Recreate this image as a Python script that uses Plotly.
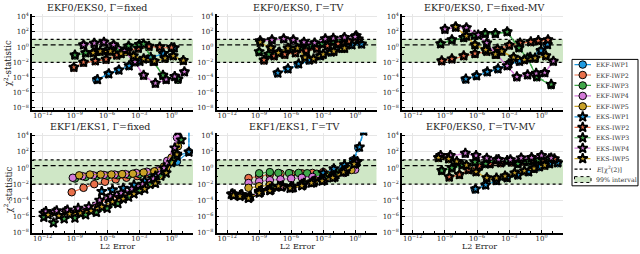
import plotly.graph_objects as go

# ---------------- data (log10 of L2 error, log10 of chi^2 statistic) ----------------
series_names = ["EKF-IWP1", "EKF-IWP2", "EKF-IWP3", "EKF-IWP4", "EKF-IWP5",
                "EKS-IWP1", "EKS-IWP2", "EKS-IWP3", "EKS-IWP4", "EKS-IWP5"]
colors = ["#1f9ae0", "#e9704b", "#40a84a", "#d47ad8", "#c9a227"]

panel_titles = ["EKF0/EKS0, Γ=fixed", "EKF0/EKS0, Γ=TV", "EKF0/EKS0, Γ=fixed-MV",
                "EKF1/EKS1, Γ=fixed", "EKF1/EKS1, Γ=TV", "EKF0/EKS0, Γ=TV-MV"]

x_tick_exp = [-12, -9, -6, -3, 0]
y_tick_exp = [4, 2, 0, -2, -4, -6, -8]

chi2_mean = 2.0          # E[chi^2(2)]
chi2_lo, chi2_hi = 0.01003, 10.597   # 99% interval of chi^2(2)

ekf0_fixed = {
    "EKF-IWP1": ([-7.0, -5.9, -4.95, -4.0, -3.0, -2.0, -0.8, 0.2],
                 [-4.3, -3.55, -3.05, -2.5, -1.9, -1.4, -0.9, -0.2]),
    "EKF-IWP2": ([-9.1, -8.2, -7.1, -6.1, -5.1, -4.1, -3.1, -2.1, -1.1, 0.0],
                 [-2.7, -2.05, -1.85, -1.65, -1.1, -0.5, -0.2, 0.05, -0.05, -0.1]),
    "EKF-IWP3": ([-9.0, -8.0, -7.0, -6.0, -5.0, -4.0, -3.0, -2.6, -1.7, -0.8, 0.6],
                 [-1.1, -0.8, -0.6, -0.45, -0.3, 0.1, 0.3, 0.35, -1.9, -3.75, -4.3]),
    "EKF-IWP4": ([-8.2, -7.2, -6.3, -5.4, -4.4, -3.4, -2.6, -1.5, -0.5, 0.3, 1.2],
                 [0.27, 0.45, 0.6, 0.27, -0.6, -2.0, -3.75, -4.8, -4.3, -3.9, -3.3]),
    "EKF-IWP5": ([-7.3, -6.65, -5.7, -4.7, -3.55, -2.6, -1.6, -0.6, 0.16, 1.1],
                 [-0.8, -0.6, -0.6, -0.9, -1.2, -1.6, -1.9, -1.5, -1.2, -1.8]),
    "EKS-IWP1": ([-6.9, -5.85, -4.9, -3.95, -2.95, -1.95, -0.75, 0.25],
                 [-4.25, -3.5, -3.0, -2.45, -1.85, -1.35, -0.85, -0.1]),
    "EKS-IWP2": ([-9.1, -8.2, -7.1, -6.1, -5.1, -4.1, -3.1, -2.1, -1.1, 0.0],
                 [-2.65, -2.0, -1.8, -1.6, -1.05, -0.45, -0.15, 0.1, 0.0, -0.05]),
    "EKS-IWP3": ([-9.0, -8.0, -7.0, -6.0, -5.0, -4.0, -3.0, -2.6, -1.7, -0.8, 0.6],
                 [-1.05, -0.75, -0.55, -0.4, -0.25, 0.15, 0.35, 0.4, -1.85, -3.7, -4.2]),
    "EKS-IWP4": ([-8.2, -7.2, -6.3, -5.4, -4.4, -3.4, -2.6, -1.5, -0.5, 0.3, 1.2],
                 [0.3, 0.5, 0.65, 0.3, -0.55, -1.95, -3.7, -4.75, -4.25, -3.85, -3.25]),
    "EKS-IWP5": ([-7.3, -6.65, -5.7, -4.7, -3.55, -2.6, -1.6, -0.6, 0.16, 1.1],
                 [-0.75, -0.55, -0.55, -0.85, -1.15, -1.55, -1.85, -1.45, -1.15, -1.75]),
}

ekf0_tv = {
    "EKF-IWP1": ([-7.3, -6.33, -5.37, -4.35, -3.3, -2.3, -1.3, -0.35, 0.58],
                 [-3.45, -2.9, -2.27, -1.75, -1.2, -0.7, -0.2, 0.27, 0.36]),
    "EKF-IWP2": ([-8.55, -7.6, -6.6, -5.6, -4.6, -3.6, -2.6, -1.6, -0.6, 0.3],
                 [-1.76, -1.2, -1.0, -0.8, -0.5, -0.2, 0.1, 0.4, 0.7, 1.0]),
    "EKF-IWP3": ([-9.0, -8.1, -7.1, -6.1, -5.1, -4.1, -3.1, -2.1, -1.1, 0.1],
                 [-0.66, -1.0, -0.7, -0.3, -0.1, 0.1, 0.4, 0.7, 1.0, 1.45]),
    "EKF-IWP4": ([-8.9, -7.8, -6.7, -5.8, -4.8, -3.8, -2.8, -2.05, -1.0, 0.0],
                 [0.78, 0.9, 1.03, 0.9, 0.6, 0.5, 1.03, 1.1, 1.2, 1.3]),
    "EKF-IWP5": ([-8.9, -7.9, -7.2, -6.3, -5.4, -4.7, -3.9, -3.0, -2.0, -1.0],
                 [0.6, -0.15, -0.8, -0.2, -0.2, -1.4, -1.6, -1.0, -0.6, -0.2]),
    "EKS-IWP1": ([-7.25, -6.3, -5.3, -4.3, -3.25, -2.25, -1.25, -0.3, 0.6],
                 [-3.4, -2.85, -2.2, -1.7, -1.15, -0.65, -0.15, 0.3, 0.4]),
    "EKS-IWP2": ([-8.55, -7.6, -6.6, -5.6, -4.6, -3.6, -2.6, -1.6, -0.6, 0.3],
                 [-1.7, -1.15, -0.95, -0.75, -0.45, -0.15, 0.15, 0.45, 0.75, 1.05]),
    "EKS-IWP3": ([-9.0, -8.1, -7.1, -6.1, -5.1, -4.1, -3.1, -2.1, -1.1, 0.1],
                 [-0.6, -0.95, -0.65, -0.25, -0.05, 0.15, 0.45, 0.75, 1.05, 1.5]),
    "EKS-IWP4": ([-8.9, -7.8, -6.7, -5.8, -4.8, -3.8, -2.8, -2.05, -1.0, 0.0],
                 [0.82, 0.95, 1.08, 0.95, 0.65, 0.55, 1.08, 1.15, 1.25, 1.35]),
    "EKS-IWP5": ([-8.9, -7.9, -7.2, -6.3, -5.4, -4.7, -3.9, -3.0, -2.0, -1.0],
                 [0.65, -0.1, -0.75, -0.15, -0.15, -1.35, -1.55, -0.95, -0.55, -0.15]),
}

ekf0_fixedmv = {
    "EKF-IWP1": ([-7.1, -6.1, -5.1, -4.1, -3.1, -2.1, -1.1, -0.1, 0.5],
                 [-4.26, -3.8, -3.3, -2.9, -2.27, -1.9, -1.4, -0.5, 0.3]),
    "EKF-IWP2": ([-9.3, -8.35, -7.25, -6.2, -5.1, -4.1, -3.0, -2.0, -1.0, -0.3, 0.6],
                 [-1.85, -1.6, -1.2, -0.9, -0.6, -0.3, 0.2, 0.5, 0.65, 0.8, 0.9]),
    "EKF-IWP3": ([-9.4, -8.35, -7.25, -6.25, -5.25, -4.3, -3.2, -2.1, -1.3, -0.44, 0.9],
                 [0.4, 0.9, 1.2, 1.5, 1.75, 1.75, 1.97, -0.15, -1.5, -3.97, -5.0]),
    "EKF-IWP4": ([-9.0, -8.0, -7.0, -5.9, -5.1, -4.2, -3.2, -2.3, -1.3, -0.5, 0.3, 1.1],
                 [2.3, 2.6, 2.5, 1.55, 0.5, -1.0, -2.5, -3.97, -3.7, -3.5, -3.4, -1.9]),
    "EKF-IWP5": ([-8.0, -7.0, -6.2, -5.2, -4.3, -3.7, -2.6, -1.6, -0.6, 0.4],
                 [2.6, 1.4, 0.27, -0.4, -1.0, -0.6, -1.4, -1.7, -1.5, -1.2]),
    "EKS-IWP1": ([-7.05, -6.05, -5.05, -4.05, -3.05, -2.05, -1.05, -0.05, 0.55],
                 [-4.2, -3.75, -3.25, -2.85, -2.2, -1.85, -1.35, -0.45, 0.35]),
    "EKS-IWP2": ([-9.3, -8.35, -7.25, -6.2, -5.1, -4.1, -3.0, -2.0, -1.0, -0.3, 0.6],
                 [-1.8, -1.55, -1.15, -0.85, -0.55, -0.25, 0.25, 0.55, 0.7, 0.85, 0.95]),
    "EKS-IWP3": ([-9.4, -8.35, -7.25, -6.25, -5.25, -4.3, -3.2, -2.1, -1.3, -0.44, 0.9],
                 [0.45, 0.95, 1.25, 1.55, 1.8, 1.8, 2.0, -0.1, -1.45, -3.9, -4.9]),
    "EKS-IWP4": ([-9.0, -8.0, -7.0, -5.9, -5.1, -4.2, -3.2, -2.3, -1.3, -0.5, 0.3, 1.1],
                 [2.35, 2.65, 2.55, 1.6, 0.55, -0.95, -2.45, -3.9, -3.65, -3.45, -3.35, -1.85]),
    "EKS-IWP5": ([-8.0, -7.0, -6.2, -5.2, -4.3, -3.7, -2.6, -1.6, -0.6, 0.4],
                 [2.65, 1.45, 0.32, -0.35, -0.95, -0.55, -1.35, -1.65, -1.45, -1.15]),
}

ekf1_fixed = {
    "EKF-IWP1": ([-1.5, -0.5, 0.5, 1.62, 1.62],
                 [-0.8, -0.3, 0.8, 2.0, 6.0]),
    "EKF-IWP2": ([-9.3, -8.2, -7.2, -6.2, -5.2, -4.2, -3.2, -2.2, -1.2, -0.3, 0.5],
                 [-3.0, -2.45, -2.0, -1.7, -1.4, -1.2, -1.0, -0.7, -0.4, 0.6, 1.7]),
    "EKF-IWP3": ([-9.0, -8.0, -7.0, -6.0, -5.0, -4.0, -3.0, -2.0, -1.0, -0.2, 0.8],
                 [-1.3, -1.1, -1.0, -0.95, -0.9, -0.85, -0.75, -0.6, -0.3, 0.8, 3.4]),
    "EKF-IWP4": ([-9.2, -8.3, -7.3, -6.3, -5.3, -4.3, -3.3, -2.3, -1.3, -0.4, 0.5],
                 [-1.2, -1.0, -0.9, -0.85, -0.8, -0.75, -0.6, -0.45, -0.3, 0.9, 3.8]),
    "EKF-IWP5": ([-8.6, -7.6, -6.6, -5.6, -4.6, -3.6, -2.6, -1.6, -0.7, 0.0, 0.6],
                 [-0.9, -0.8, -0.8, -0.8, -0.75, -0.7, -0.55, -0.4, 0.2, 1.3, 2.7]),
    "EKS-IWP1": ([-6.5, -5.5, -4.5, -3.5, -2.5, -1.5, -0.5, 0.5, 1.62, 1.62],
                 [-2.9, -2.7, -2.5, -2.1, -1.6, -1.0, 0.0, 1.5, 2.0, 6.0]),
    "EKS-IWP2": ([-11.9, -10.9, -9.9, -8.9, -7.9, -6.9, -5.9, -4.9, -3.9, -2.9, -1.9, -0.9, 0.1],
                 [-5.6, -5.5, -5.4, -5.4, -5.2, -4.5, -3.8, -3.6, -3.1, -2.5, -1.8, -0.7, 0.9]),
    "EKS-IWP3": ([-11.9, -11.0, -10.0, -9.0, -8.0, -7.0, -6.0, -5.0, -4.0, -3.0, -2.0, -1.0, 0.0, 0.9],
                 [-6.1, -6.8, -6.3, -6.2, -5.8, -5.5, -5.0, -4.4, -3.6, -2.8, -2.0, -1.0, 0.7, 3.5]),
    "EKS-IWP4": ([-11.7, -10.7, -9.7, -8.7, -7.7, -6.7, -5.7, -4.7, -3.7, -2.7, -1.7, -0.7, 0.3, 0.6],
                 [-5.4, -5.3, -5.2, -5.0, -4.8, -4.0, -3.5, -3.1, -2.6, -2.0, -1.3, 0.0, 2.5, 4.6]),
    "EKS-IWP5": ([-11.5, -10.5, -9.5, -8.5, -7.5, -6.5, -5.5, -4.5, -3.5, -2.5, -1.5, -0.5, 0.5],
                 [-5.8, -5.9, -5.7, -5.6, -5.3, -4.8, -4.2, -3.8, -3.2, -2.6, -1.9, -0.6, 1.7]),
}

ekf1_tv = {
    "EKF-IWP1": ([-3.1, -2.1, -1.1, -0.2, 0.3, 0.8],
                 [-0.84, -0.4, 0.2, 0.97, 2.5, 4.6]),
    "EKF-IWP2": ([-10.0, -9.0, -8.0, -7.0, -6.0, -5.0, -4.0, -3.0, -2.0, -1.0, 0.0],
                 [-1.24, -1.0, -0.8, -0.7, -0.7, -0.65, -0.6, -0.5, -0.4, -0.2, 0.2]),
    "EKF-IWP3": ([-9.0, -8.0, -7.2, -6.2, -5.3, -4.5, -3.6, -2.7, -1.8, -0.9, -0.1],
                 [-0.64, -0.5, -0.6, -0.62, -0.6, -0.64, -0.7, -0.85, -0.5, -0.2, 0.1]),
    "EKF-IWP4": ([-10.0, -9.0, -8.0, -7.0, -6.0, -5.0, -4.0, -3.0, -2.0, -1.0, 0.0],
                 [-1.85, -1.65, -1.5, -1.4, -1.3, -1.2, -1.1, -1.0, -0.9, -0.6, -0.2]),
    "EKF-IWP5": ([-10.0, -9.0, -8.0, -7.0, -5.9, -4.85, -3.8, -2.8, -1.8, -0.9, -0.35],
                 [-2.45, -2.25, -2.1, -2.2, -2.45, -1.85, -1.5, -1.04, -0.8, -0.5, -0.24]),
    "EKS-IWP1": ([-3.0, -2.0, -1.0, -0.1, 0.4, 0.8],
                 [-0.6, -0.1, 0.4, 1.0, 2.6, 4.6]),
    "EKS-IWP2": ([-11.5, -10.8, -10.0, -9.0, -8.0, -7.0, -6.0, -5.0, -4.0, -3.0, -2.0, -1.0, 0.0],
                 [-3.2, -3.4, -3.7, -2.9, -2.6, -2.3, -2.3, -2.0, -1.7, -1.4, -1.0, -0.3, 0.6]),
    "EKS-IWP3": ([-11.3, -10.6, -9.8, -8.8, -7.8, -6.8, -5.8, -4.8, -3.8, -2.8, -1.8, -0.8, 0.2],
                 [-3.3, -3.3, -3.5, -2.8, -2.4, -2.2, -2.4, -1.9, -1.6, -1.2, -0.8, -0.1, 0.8]),
    "EKS-IWP4": ([-11.6, -10.7, -9.9, -8.9, -7.9, -6.9, -5.9, -4.9, -3.9, -2.9, -1.9, -0.9, 0.1],
                 [-3.25, -3.3, -3.6, -3.0, -2.7, -2.35, -2.45, -2.1, -1.8, -1.5, -1.1, -0.4, 0.7]),
    "EKS-IWP5": ([-11.4, -10.8, -10.0, -9.0, -8.0, -7.2, -6.1, -5.0, -4.1, -3.1, -2.1, -1.1, -0.1],
                 [-3.4, -3.5, -3.75, -3.1, -2.8, -2.25, -2.5, -2.2, -1.85, -1.6, -1.2, -0.5, 0.5]),
}

ekf0_tvmv = {
    "EKF-IWP1": ([-6.2, -5.26, -4.25, -3.25, -2.25, -1.25, -0.25, 0.7, 1.5],
                 [-2.65, -2.13, -1.6, -1.24, -0.9, -0.5, 0.1, 0.5, 0.6]),
    "EKF-IWP2": ([-8.6, -7.65, -6.8, -5.8, -4.8, -3.8, -2.8, -1.8, -0.8, 0.2, 1.2],
                 [-1.16, -0.84, -0.24, 0.2, 0.5, 0.6, 0.7, 0.8, 0.9, 1.0, 1.1]),
    "EKF-IWP3": ([-9.3, -8.35, -7.4, -6.2, -5.2, -4.2, -3.2, -2.2, -1.2, -0.3, 0.7],
                 [-0.35, -0.03, 0.37, 0.7, 0.5, 0.98, 0.9, 0.5, 0.8, 0.98, 1.1]),
    "EKF-IWP4": ([-9.4, -8.5, -7.1, -6.1, -5.1, -4.0, -2.9, -1.9, -0.93, 0.0, 0.9],
                 [1.5, 1.5, 1.78, 1.5, 1.18, 1.0, 0.98, 1.2, 1.26, 1.5, 1.2]),
    "EKF-IWP5": ([-9.6, -8.65, -7.9, -7.0, -6.1, -5.1, -4.2, -3.4, -2.5, -1.6, -0.7, 0.3],
                 [1.26, 1.1, 0.77, 0.3, -0.5, -1.24, -1.3, -1.04, -0.64, -0.4, -0.1, 0.3]),
    "EKS-IWP1": ([-6.15, -5.2, -4.2, -3.2, -2.2, -1.2, -0.2, 0.75, 1.5],
                 [-2.6, -2.1, -1.55, -1.2, -0.85, -0.45, 0.15, 0.55, 0.65]),
    "EKS-IWP2": ([-8.6, -7.65, -6.8, -5.8, -4.8, -3.8, -2.8, -1.8, -0.8, 0.2, 1.2],
                 [-1.1, -0.8, -0.2, 0.25, 0.55, 0.65, 0.75, 0.85, 0.95, 1.05, 1.15]),
    "EKS-IWP3": ([-9.3, -8.35, -7.4, -6.2, -5.2, -4.2, -3.2, -2.2, -1.2, -0.3, 0.7],
                 [-0.3, 0.02, 0.42, 0.75, 0.55, 1.03, 0.95, 0.55, 0.85, 1.03, 1.15]),
    "EKS-IWP4": ([-9.4, -8.5, -7.1, -6.1, -5.1, -4.0, -2.9, -1.9, -0.93, 0.0, 0.9],
                 [1.55, 1.55, 1.83, 1.55, 1.23, 1.05, 1.03, 1.25, 1.3, 1.55, 1.25]),
    "EKS-IWP5": ([-9.6, -8.65, -7.9, -7.0, -6.1, -5.1, -4.2, -3.4, -2.5, -1.6, -0.7, 0.3],
                 [1.3, 1.15, 0.82, 0.35, -0.45, -1.2, -1.25, -1.0, -0.6, -0.35, -0.05, 0.35]),
}

panels = [ekf0_fixed, ekf0_tv, ekf0_fixedmv, ekf1_fixed, ekf1_tv, ekf0_tvmv]

# ---------------- layout geometry (pixels) ----------------
W, H = 640, 254
col_px = [(32, 193), (216.5, 376.5), (402, 563)]
row_px = [(11.7, 110), (133.3, 236.7)]
row_yrange = [[-8.26, 4.3], [-8.08, 4.4]]
x_range = [-13, 2]
title_pos = [(97, 5), (298, 5), (484, 5), (100, 127.5), (294, 127.5), (480, 127.5)]
xlabel_pos = [(117, 250.5), (297, 250.5), (479, 250.5)]
ylabel_pos = [(8, 62), (8, 192)]
band_color = "#cfe7c6"
FONT = "DejaVu Serif"

def px2x(p):
    return p / W

def px2y(p):
    return 1 - p / H

fig = go.Figure()

def sup_label(e):
    s = str(e).replace("-", "−")
    return f"10<sup>{s}</sup>"

STAR_SIZE, STAR_LW = 7.5, 1.8
CIRC_SIZE, CIRC_LW = 7.5, 1.0

for k, data in enumerate(panels):
    r, c = divmod(k, 3)
    ax = k + 1
    xa, ya = f"x{ax}", f"y{ax}"
    xb = [10 ** (x_range[0] - 0.5), 10 ** (x_range[1] + 0.5)]
    # 99% band
    fig.add_trace(go.Scatter(x=xb, y=[chi2_lo, chi2_lo], mode="lines", xaxis=xa, yaxis=ya,
                             line=dict(color="black", width=1.3, dash="dot"),
                             showlegend=False, hoverinfo="skip"))
    fig.add_trace(go.Scatter(x=xb, y=[chi2_hi, chi2_hi], mode="lines", xaxis=xa, yaxis=ya,
                             fill="tonexty", fillcolor=band_color,
                             line=dict(color="black", width=1.3, dash="dot"),
                             showlegend=False, hoverinfo="skip"))
    fig.add_trace(go.Scatter(x=xb, y=[chi2_mean, chi2_mean], mode="lines", xaxis=xa, yaxis=ya,
                             line=dict(color="black", width=1.3, dash="5px,3px"),
                             showlegend=False, hoverinfo="skip"))
    for i, name in enumerate(series_names):
        xs, ys = data[name]
        col = colors[i % 5]
        is_eks = i >= 5
        fig.add_trace(go.Scatter(
            x=[10 ** v for v in xs], y=[10 ** v for v in ys], mode="lines+markers",
            xaxis=xa, yaxis=ya, name=name, showlegend=False,
            line=dict(color=col, width=1.2, dash="4px,2px" if is_eks else "solid"),
            marker=dict(symbol="star" if is_eks else "circle",
                        size=STAR_SIZE if is_eks else CIRC_SIZE,
                        color=col, line=dict(color="black", width=STAR_LW if is_eks else CIRC_LW)),
        ))
    x0, x1 = col_px[c]
    y0, y1 = row_px[r]
    axis_common = dict(type="log", showline=True, linecolor="black", linewidth=1.6,
                       ticks="inside", ticklen=3, tickcolor="black", tickwidth=1,
                       showgrid=True, gridcolor="#e6e6e6", gridwidth=1, zeroline=False,
                       tickfont=dict(family=FONT, size=7, color="#222"))
    fig.layout[f"xaxis{ax}"] = dict(
        axis_common, domain=[px2x(x0), px2x(x1)], anchor=ya, range=x_range,
        tickvals=[10 ** e for e in x_tick_exp], ticktext=[sup_label(e) for e in x_tick_exp],
        ticklabelstandoff=-2,
        minor=dict(tickvals=[10 ** e for e in range(-13, 3)], ticklen=2, ticks="inside",
                   tickcolor="black", showgrid=False))
    fig.layout[f"yaxis{ax}"] = dict(
        axis_common, domain=[px2y(y1), px2y(y0)], anchor=xa, range=row_yrange[r],
        tickvals=[10 ** e for e in y_tick_exp], ticktext=[sup_label(e) for e in y_tick_exp],
        minor=dict(tickvals=[10 ** e for e in range(-8, 5)], ticklen=2, ticks="inside",
                   tickcolor="black", showgrid=False))

annotations = []
for k, t in enumerate(panel_titles):
    tx, ty = title_pos[k]
    annotations.append(dict(text=t, x=px2x(tx), y=px2y(ty), xref="paper", yref="paper",
                            showarrow=False, xanchor="center", yanchor="middle",
                            font=dict(family=FONT, size=9.5, color="#222")))
for (lx, ly) in xlabel_pos:
    annotations.append(dict(text="L2 Error", x=px2x(lx), y=px2y(ly), xref="paper", yref="paper",
                            showarrow=False, xanchor="center", yanchor="middle",
                            font=dict(family=FONT, size=8, color="#222")))
for (lx, ly) in ylabel_pos:
    annotations.append(dict(text="χ<sup>2</sup>-statistic", x=px2x(lx), y=px2y(ly),
                            xref="paper", yref="paper", showarrow=False, textangle=-90,
                            xanchor="center", yanchor="middle",
                            font=dict(family=FONT, size=8.5, color="#222")))

# ---------------- hand-drawn legend box ----------------
LX0, LX1, LY0, LY1 = 572, 638, 58, 188
fig.layout["xaxis7"] = dict(domain=[px2x(LX0), px2x(LX1)], range=[LX0, LX1], visible=False,
                            fixedrange=True, anchor="y7")
fig.layout["yaxis7"] = dict(domain=[px2y(LY1), px2y(LY0)], range=[LY1, LY0], visible=False,
                            fixedrange=True, anchor="x7")
legend_labels = series_names + ["<i>E</i>[χ<sup>2</sup>(2)]", "99% interval"]
shapes = [dict(type="rect", xref="paper", yref="paper", x0=px2x(LX0), x1=px2x(LX1),
               y0=px2y(LY1), y1=px2y(LY0), line=dict(color="black", width=1),
               fillcolor="white", layer="below")]
for i, lab in enumerate(legend_labels):
    yc = 63.3 + 10.75 * i
    if i < 10:
        col = colors[i % 5]
        is_eks = i >= 5
        fig.add_trace(go.Scatter(x=[574.5, 591], y=[yc, yc], mode="lines", xaxis="x7", yaxis="y7",
                                 line=dict(color=col, width=1.2, dash="4px,2px" if is_eks else "solid"),
                                 showlegend=False, hoverinfo="skip"))
        fig.add_trace(go.Scatter(x=[582.7], y=[yc], mode="markers", xaxis="x7", yaxis="y7",
                                 marker=dict(symbol="star" if is_eks else "circle",
                                             size=STAR_SIZE if is_eks else CIRC_SIZE, color=col,
                                             line=dict(color="black", width=STAR_LW if is_eks else CIRC_LW)),
                                 showlegend=False, hoverinfo="skip"))
    elif i == 10:
        fig.add_trace(go.Scatter(x=[574.5, 591], y=[yc, yc], mode="lines", xaxis="x7", yaxis="y7",
                                 line=dict(color="black", width=1.3, dash="3px,2px"),
                                 showlegend=False, hoverinfo="skip"))
    else:
        shapes.append(dict(type="rect", xref="x7", yref="y7", x0=574.5, x1=591, y0=yc - 3, y1=yc + 3,
                           fillcolor=band_color, line=dict(color="black", width=1, dash="dot")))
    annotations.append(dict(text=lab, x=px2x(594), y=px2y(yc), xref="paper", yref="paper",
                            showarrow=False, xanchor="left", yanchor="middle",
                            font=dict(family=FONT, size=6.3, color="#333")))

fig.update_layout(width=W, height=H, margin=dict(l=0, r=0, t=0, b=0),
                  plot_bgcolor="white", paper_bgcolor="white", showlegend=False,
                  annotations=annotations, shapes=shapes)

fig.write_html("out.html", config={"displayModeBar": False},
               post_script="document.body.style.margin='0';document.body.style.padding='0';"
                           "document.body.style.overflow='hidden';")
